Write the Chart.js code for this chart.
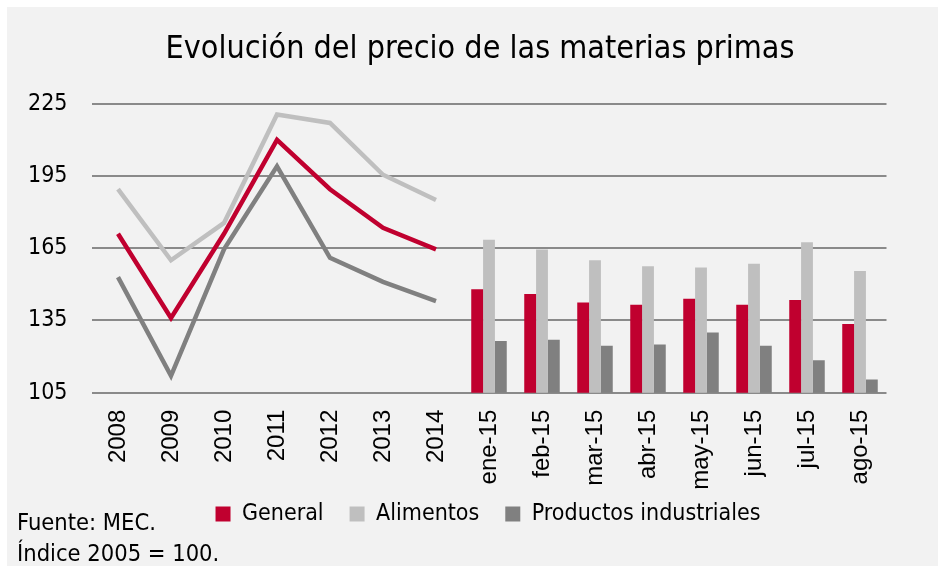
<!DOCTYPE html>
<html lang="es">
<head>
<meta charset="utf-8">
<title>Evolución del precio de las materias primas</title>
<script src="https://cdn.jsdelivr.net/npm/chart.js@4"></script>
<style>
  body { margin: 0; background: #ffffff; }
  #wrap { position: relative; width: 938px; height: 569px; }
  #panel { position: absolute; left: 7px; top: 7px; width: 931px; height: 559px; background: #f2f2f2; }
  #myChart { position: absolute; left: 0; top: 0; }
  .note { position: absolute; left: 17px; font: 23.5px 'DejaVu Sans Condensed', sans-serif; color: #000; white-space: nowrap; }
</style>
</head>
<body>
<div id="wrap">
  <div id="panel"></div>
  <canvas id="myChart" width="938" height="569"></canvas>
  <div class="note" style="top:508px">Fuente: MEC.</div>
  <div class="note" style="top:539px">Índice 2005 = 100.</div>
</div>
<script>
'use strict';

// Global Values
let arrOfLabels = ['2008', '2009', '2010', '2011', '2012', '2013', '2014',
  'ene-15', 'feb-15', 'mar-15', 'abr-15', 'may-15', 'jun-15', 'jul-15', 'ago-15'];
let arrOfNames = ['General', 'Alimentos', 'Productos industriales'];
let arrOfColors = ['#c0002f', '#bfbfbf', '#808080'];
let yTicks = [105, 135, 165, 195, 225];

// yearly values (lines)
let generalYears = [171, 136, 171, 210, 189.5, 173.5, 164.5];
let alimentosYears = [189.5, 160, 175.5, 220.5, 217, 195.5, 185];
let industrialesYears = [153, 112, 164.5, 199, 161, 151, 143];

// monthly values 2015 (bars)
let generalMonths = [148, 146, 142.5, 141.5, 144, 141.5, 143.5, 133.5];
let alimentosMonths = [168.5, 164.5, 160, 157.5, 157, 158.5, 167.5, 155.5];
let industrialesMonths = [126.5, 127, 124.5, 125, 130, 124.5, 118.5, 110.5];

let narrowFont = '\'DejaVu Sans Condensed\', sans-serif';

// pad the lines with nulls for the months, bars with nulls for the years
function lineData(values) {
  return values.concat(new Array(arrOfLabels.length - values.length).fill(null));
}
function barData(values) {
  return new Array(arrOfLabels.length - values.length).fill(null).concat(values);
}

function makeLine(i, values) {
  return {
    type: 'line',
    label: arrOfNames[i],
    data: lineData(values),
    borderColor: arrOfColors[i],
    backgroundColor: arrOfColors[i],
    borderWidth: 4.5,
    pointRadius: 0,
    tension: 0,
    spanGaps: false
  };
}

function makeBar(i, values) {
  return {
    type: 'bar',
    label: arrOfNames[i],
    data: barData(values),
    backgroundColor: arrOfColors[i],
    barPercentage: 1,
    categoryPercentage: 0.67
  };
}

// title and legend are centred over the plot, not over the whole canvas
let shiftBlocks = {
  id: 'shiftBlocks',
  beforeDraw: function (chart) {
    let title = chart.titleBlock;
    if (title) {
      title.left = 73.5;
      title.right = 886.5;
    }
    let legend = chart.legend;
    if (legend) {
      legend.left = 89.5;
      legend.right = 886.5;
      legend.top = 514 - legend.options.labels.padding - 11.5;
    }
  }
};

function chart() {
  let ctx = document.getElementById('myChart');
  // eslint-disable-next-line no-undef
  let myChart = new Chart(ctx, {
    data: {
      labels: arrOfLabels,
      datasets: [
        makeLine(0, generalYears),
        makeLine(1, alimentosYears),
        makeLine(2, industrialesYears),
        makeBar(0, generalMonths),
        makeBar(1, alimentosMonths),
        makeBar(2, industrialesMonths)
      ]
    },
    plugins: [shiftBlocks],
    options: {
      responsive: false,
      animation: false,
      devicePixelRatio: 1,
      layout: { padding: { left: 0, right: 51.5, top: 0, bottom: 19.3 } },
      plugins: {
        title: {
          display: true,
          text: 'Evolución del precio de las materias primas',
          color: '#000000',
          font: { family: narrowFont, size: 32, weight: 'normal' },
          padding: { top: 30, bottom: 35.3 }
        },
        legend: {
          position: 'bottom',
          labels: {
            color: '#000000',
            font: { family: narrowFont, size: 23 },
            boxWidth: 15,
            boxHeight: 15,
            padding: 26,
            filter: function (item) { return item.datasetIndex >= 3; }
          }
        },
        tooltip: { enabled: false }
      },
      scales: {
        x: {
          grid: { display: false },
          border: { display: false },
          ticks: {
            autoSkip: false,
            minRotation: 90,
            maxRotation: 90,
            padding: 9,
            color: '#000000',
            font: { family: '\'Liberation Sans\', Arial, sans-serif', size: 24 }
          },
          afterFit: function (scale) { scale.height = 98; }
        },
        y: {
          min: 105,
          max: 225,
          afterBuildTicks: function (scale) {
            scale.ticks = yTicks.map(function (v) { return { value: v }; });
          },
          grid: { color: '#8a8a8a', lineWidth: 2, drawTicks: false },
          border: { display: false },
          ticks: {
            padding: 24,
            color: '#000000',
            font: { family: narrowFont, size: 23 }
          },
          afterFit: function (scale) { scale.width = 91.5; }
        }
      }
    }
  });
}
chart();
</script>
</body>
</html>
